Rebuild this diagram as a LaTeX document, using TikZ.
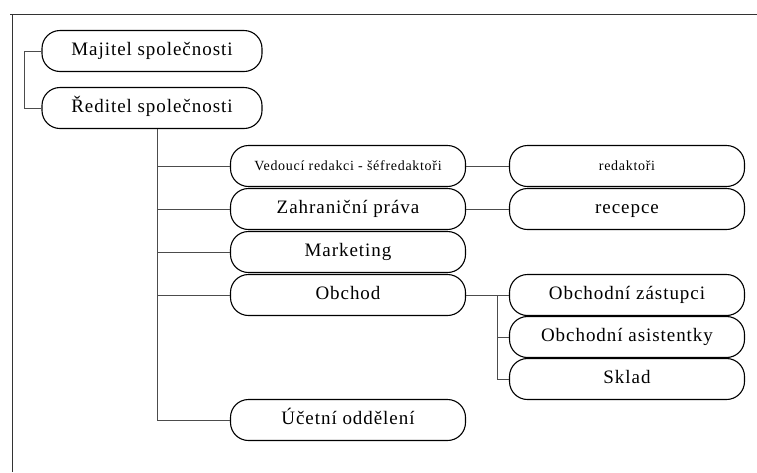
\documentclass[tikz,border=0pt]{standalone}
\usepackage{fontspec}
\setmainfont[LetterSpace=5]{Liberation Serif}
\usepackage{tikz}
\usetikzlibrary{calc}

\tikzstyle{orgbox} = [draw=black, fill=white, line width=1.1pt,
rectangle, rounded corners=18pt, minimum width=235pt, minimum height=41pt, inner sep=2pt,
text height=0.9em, text depth=0.05em]
\tikzstyle{topbox} = [orgbox, minimum width=220pt]
\tikzstyle{spoj} = [draw=black!70, line width=0.6pt]
\tikzstyle{velke} = [font=\fontsize{19}{21}\selectfont]
\tikzstyle{male} = [font=\fontsize{14}{16}\selectfont]

\begin{document}
\begin{tikzpicture}[x=1pt, y=-1pt]
        \useasboundingbox (0,0) rectangle (757,472);
        % ramecek
        \draw[black!80, line width=0.6pt] (10,14) -- (757,14);
        \draw[black!80, line width=0.6pt] (12,14) -- (12,472);
        % vedeni
        \node [topbox, velke] (majitel) at (152,51) {Majitel společnosti};
        \node [topbox, velke] (reditel) at (152,108) {Ředitel společnosti};
        % oddeleni
        \node [orgbox, male] (vedouci) at (348,166) {Vedoucí redakci - šéfredaktoři};
        \node [orgbox, velke] (prava) at (348,209) {Zahraniční práva};
        \node [orgbox, velke] (marketing) at (348,252) {Marketing};
        \node [orgbox, velke] (obchod) at (348,295) {Obchod};
        \node [orgbox, velke] (ucetni) at (348,420) {Účetní oddělení};
        % podrizeni
        \node [orgbox, male] (redaktori) at (627,166) {redaktoři};
        \node [orgbox, velke] (recepce) at (627,209) {recepce};
        \node [orgbox, velke] (zastupci) at (627,295) {Obchodní zástupci};
        \node [orgbox, velke] (asistentky) at (627,337) {Obchodní asistentky};
        \node [orgbox, velke] (sklad) at (627,379) {Sklad};
        % spoje
        \draw[spoj] (majitel.west) -- ++(-17,0) |- (reditel.west);
        \coordinate (kmen) at ([xshift=5pt]reditel.south);
        \draw[spoj] (kmen) |- (ucetni.west);
        \foreach \n in {vedouci, prava, marketing, obchod}
            \draw[spoj] (kmen |- \n.west) -- (\n.west);
        \draw[spoj] (vedouci.east) -- (redaktori.west);
        \draw[spoj] (prava.east) -- (recepce.west);
        \draw[spoj] (obchod.east) -- (zastupci.west);
        \coordinate (rozcesti) at ($(obchod.east)!0.73!(zastupci.west)$);
        \draw[spoj] (rozcesti) |- (sklad.west);
        \draw[spoj] (rozcesti |- asistentky.west) -- (asistentky.west);
    \end{tikzpicture}
\end{document}
